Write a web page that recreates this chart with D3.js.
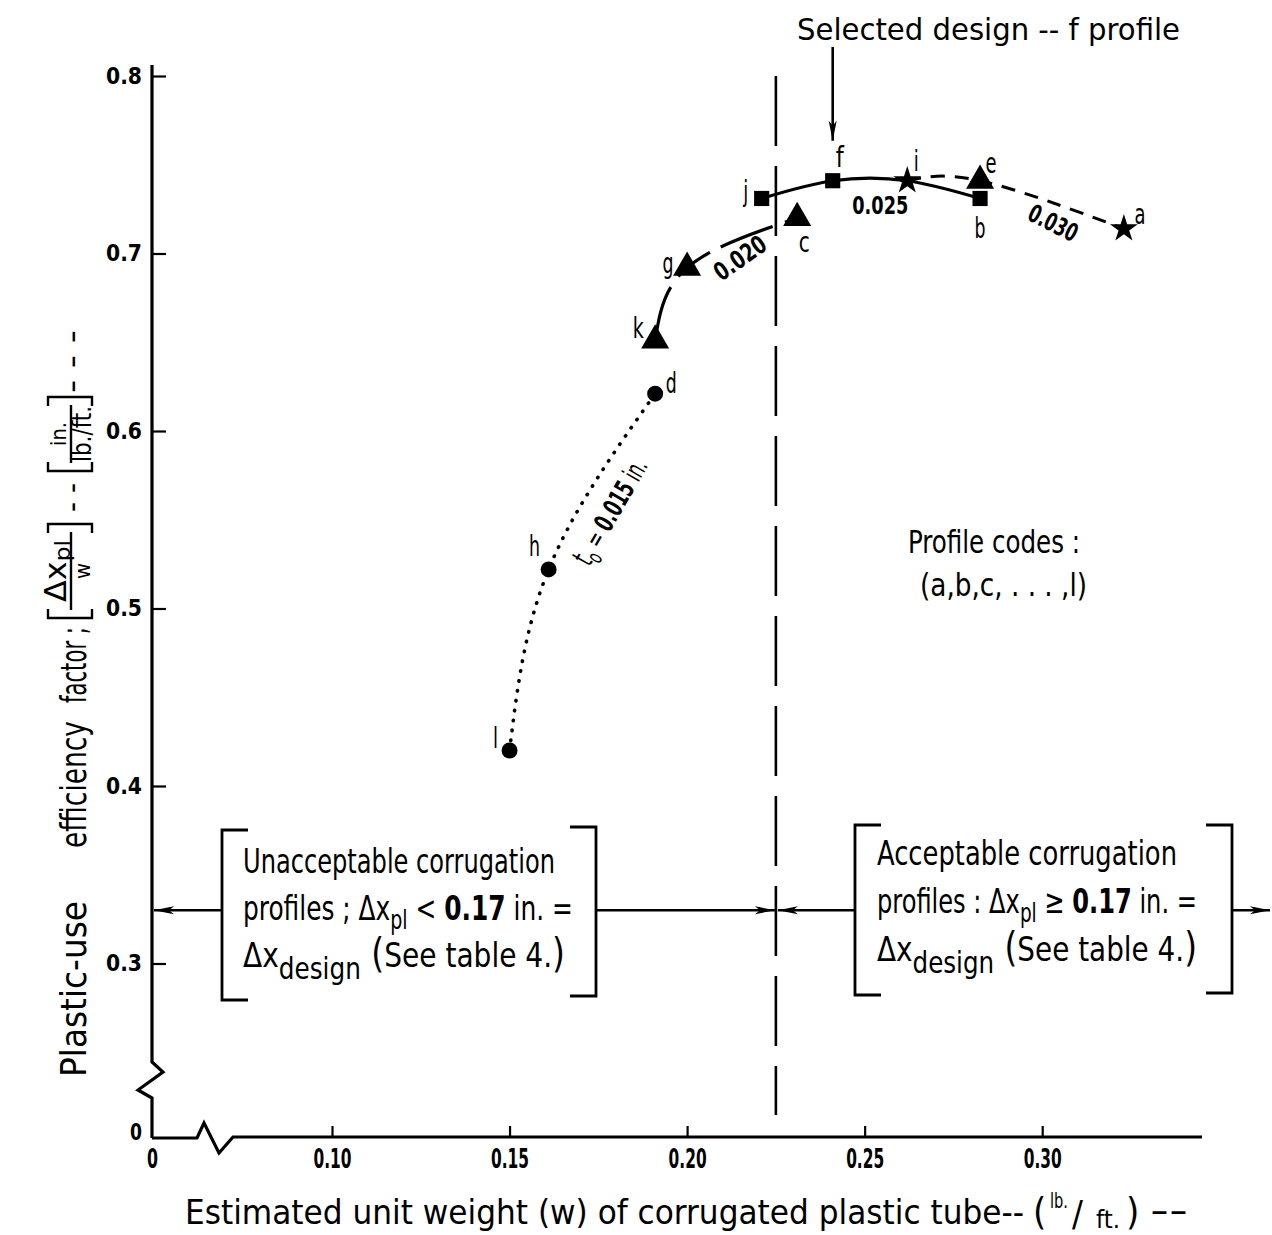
<!DOCTYPE html>
<html><head><meta charset="utf-8">
<script src="https://cdn.jsdelivr.net/npm/d3@7"></script>
<style>
body{margin:0;background:#fff;}
svg{display:block;background:#fff;}
text{font-family:"Liberation Sans Narrow","DejaVu Sans Condensed","DejaVu Sans",sans-serif;fill:#000;}
</style></head><body>
<svg id="chart" width="1272" height="1235"></svg>
<script>
// ---------------- data ----------------
const profileCodes = ["l","h","d","k","g","c","j","f","i","b","e","a"];
const unitWeight   = [0.150,0.161,0.191,0.191,0.200,0.231,0.221,0.241,0.262,0.2825,0.2825,0.323];
const efficiency   = [0.420,0.522,0.621,0.651,0.692,0.720,0.731,0.741,0.741,0.731,0.741,0.714];
const markerShape  = ["circle","circle","circle","triangle","triangle","triangle","square","square","star","square","triangle","star"];

const curveT015 = ["l","h","d"];
const curveT020 = ["k","g","c"];
const curveT025 = ["j","f","i","b"];
const curveT030 = ["i","e","a"];

const xTickValues = [0, 0.10, 0.15, 0.20, 0.25, 0.30];
const xTickLabels = ["0","0.10","0.15","0.20","0.25","0.30"];
const yTickValues = [0, 0.3, 0.4, 0.5, 0.6, 0.7, 0.8];
const yTickLabels = ["0","0.3","0.4","0.5","0.6","0.7","0.8"];

const boundaryWeight = 0.225;   // Δx_pl = 0.17 in. boundary
const arrowLevel = 0.33;

// ---------------- setup ----------------
const svg = d3.select("#chart");
const xScale = d3.scaleLinear().domain([0, 0.10, 0.345]).range([152, 332, 1202]);
const yScale = d3.scaleLinear().domain([0, 0.3, 0.8]).range([1138, 963.5, 76]);
const x0 = xScale(0), yb = yScale(0);

const pts = profileCodes.map((c,i)=>({code:c, w:unitWeight[i], v:efficiency[i], shape:markerShape[i]}));
const byCode = Object.fromEntries(pts.map(p=>[p.code,p]));

const defs = svg.append("defs");
defs.append("marker").attr("id","ah").attr("viewBox","0 0 20 10").attr("refX",20).attr("refY",5)
  .attr("markerWidth",20).attr("markerHeight",10).attr("markerUnits","userSpaceOnUse").attr("orient","auto")
  .append("path").attr("d","M0,1 L20,5 L0,9 L5,5 Z").attr("fill","#000");

function fit(sel,len){ return sel.attr("textLength",len).attr("lengthAdjust","spacingAndGlyphs"); }
// horizontally condense a (possibly multi-tspan) text placed at (x,y) to a given width
function squeeze(parent,x,y,len,size,extra){
  const t = parent.append("text").attr("x",0).attr("y",0).attr("font-size",size);
  t.__fit = ()=>{
    const n = t.node().getComputedTextLength();
    const s = n>0 ? len/n : 1;
    t.attr("transform",`translate(${x},${y}) ${extra||""} scale(${s},1)`);
  };
  return t;
}

// ---------------- axes ----------------
const xAxis = d3.axisBottom(xScale).tickValues(xTickValues)
  .tickFormat((d,i)=>xTickLabels[i]).tickSize(-12).tickPadding(12);
const gx = svg.append("g").attr("transform",`translate(0,${yb})`).call(xAxis);
gx.select(".domain").remove();
gx.selectAll(".tick line").attr("stroke","#000").attr("stroke-width",2.2)
  .filter(d=>d===0).remove();
gx.selectAll(".tick text").attr("font-size",26).attr("font-weight","bold").attr("fill","#000")
  .attr("font-family",'"DejaVu Sans Condensed","DejaVu Sans",sans-serif')
  .each(function(d){ fit(d3.select(this), d===0 ? 11 : 38); });

const yAxis = d3.axisLeft(yScale).tickValues(yTickValues)
  .tickFormat((d,i)=>yTickLabels[i]).tickSize(-14).tickPadding(10);
const gy = svg.append("g").attr("transform",`translate(${x0},0)`).call(yAxis);
gy.select(".domain").remove();
gy.selectAll(".tick line").attr("stroke","#000").attr("stroke-width",2.2)
  .filter(d=>d===0).remove();
gy.selectAll(".tick text").attr("font-size",23).attr("font-weight","bold").attr("fill","#000")
  .attr("font-family",'"DejaVu Sans","Liberation Sans",sans-serif')
  .each(function(d){ fit(d3.select(this), d===0 ? 12 : 36); });
gy.selectAll(".tick").filter(d=>d===0).select("text").attr("dy","0.05em");

// axis lines with break symbols
svg.append("path")
  .attr("d",`M${x0},${yb} V${yb-40} L${x0-14},${yb-48} L${x0+11},${yb-66} L${x0},${yb-76} V${yScale(0.8)-11}`)
  .attr("fill","none").attr("stroke","#000").attr("stroke-width",3.2).attr("stroke-linejoin","miter");
svg.append("path")
  .attr("d",`M${x0},${yb} H${x0+45} L${x0+52},${yb-15} L${x0+67},${yb+15} L${x0+81},${yb-1} H${xScale(0.345)}`)
  .attr("fill","none").attr("stroke","#000").attr("stroke-width",3.2);

// ---------------- boundary line ----------------
const xb = xScale(boundaryWeight);
svg.append("line").attr("x1",xb).attr("x2",xb).attr("y1",yScale(0.8)).attr("y2",yScale(0)-23)
  .attr("stroke","#000").attr("stroke-width",2.6).attr("stroke-dasharray","70,20");

// ---------------- curves ----------------
const line = d3.line().x(p=>xScale(p.w)).y(p=>yScale(p.v)).curve(d3.curveNatural);
const curves = [
  {codes:curveT015, dash:"0.5,9.5", width:3.6, cap:"round"},
  {codes:curveT020, dash:"56,13,40,12", width:3.2, cap:"butt"},
  {codes:curveT025, dash:null, width:3.2, cap:"butt"},
  {codes:curveT030, dash:"14,10", width:3, cap:"butt"}
];
curves.forEach(c=>{
  svg.append("path").attr("d",line(c.codes.map(k=>byCode[k])))
    .attr("fill","none").attr("stroke","#000").attr("stroke-width",c.width)
    .attr("stroke-linecap",c.cap).attr("stroke-dasharray",c.dash);
});

// ---------------- markers ----------------
const symType = {circle:d3.symbolCircle, square:d3.symbolSquare, triangle:d3.symbolTriangle, star:d3.symbolStar};
const symSize = {circle:200, square:230, triangle:340, star:240};
svg.append("g").selectAll("path").data(pts).join("path")
  .attr("transform",p=>`translate(${xScale(p.w)},${yScale(p.v)})`)
  .attr("d",p=>d3.symbol().type(symType[p.shape]).size(symSize[p.shape])())
  .attr("fill","#000");

// point letters (offsets in px)
const letterOffset = {l:[-14,-12],h:[-14,-23],d:[16,-11],k:[-17,-12],g:[-19,-5],c:[7,24],
  j:[-16,-7],f:[7,-24],i:[9,-20],b:[0,30],e:[11,-18],a:[16,-14]};
svg.append("g").selectAll("text").data(pts).join("text")
  .attr("x",p=>xScale(p.w)+letterOffset[p.code][0])
  .attr("y",p=>yScale(p.v)+letterOffset[p.code][1])
  .attr("dy","0.35em").attr("text-anchor","middle").attr("font-size",28)
  .attr("textLength",p=>(p.code==="l"||p.code==="i"||p.code==="j")?5:(p.code==="f"?8:11))
  .attr("lengthAdjust","spacingAndGlyphs")
  .text(p=>p.code);

// curve labels
function rotLabel(w,v,rot){
  return svg.append("text").attr("transform",`translate(${xScale(w)},${yScale(v)}) rotate(${rot})`)
    .attr("text-anchor","middle").attr("dy","0.35em").attr("font-size",25).attr("font-weight","bold");
}
fit(rotLabel(0.2544,0.7273,0).text("0.025"),56);
fit(rotLabel(0.3031,0.7172,27).text("0.030"),52);
fit(rotLabel(0.2149,0.6975,-35).text("0.020"),58);
const fitters = [];
const t15 = squeeze(svg,xScale(0.1785),yScale(0.5545),118,27,"rotate(-60)")
  .attr("text-anchor","middle").attr("dy","0.35em");
t15.append("tspan").attr("font-size",30).text("t");
t15.append("tspan").attr("font-size",22).attr("dy",7).text("o");
t15.append("tspan").attr("dy",-7).text(" = ");
t15.append("tspan").attr("font-weight","bold").text("0.015 ");
t15.append("tspan").text("in.");
fitters.push(t15);

// ---------------- top annotation ----------------
fit(svg.append("text").attr("x",797).attr("y",40).attr("font-size",30).text("Selected  design -- f  profile"),383);
const fx = xScale(byCode.f.w);
svg.append("line").attr("x1",fx).attr("x2",fx).attr("y1",47).attr("y2",yScale(byCode.f.v)-40)
  .attr("stroke","#000").attr("stroke-width",2.6).attr("marker-end","url(#ah)");

// ---------------- region boxes ----------------
const ya = yScale(arrowLevel);
function bracket(x,y1,y2,dir){
  svg.append("path").attr("d",`M${x+dir*26},${y1} H${x} V${y2} H${x+dir*26}`)
    .attr("fill","none").attr("stroke","#000").attr("stroke-width",2.8);
}
bracket(222,830,1000,1); bracket(596,827,996,-1);
bracket(855,825,995,1);  bracket(1232,825,993,-1);

function arrow(x1,x2){
  svg.append("line").attr("x1",x1).attr("x2",x2).attr("y1",ya).attr("y2",ya)
    .attr("stroke","#000").attr("stroke-width",2.6).attr("marker-end","url(#ah)");
}
arrow(222,x0+2); arrow(596,xb-1); arrow(855,xb+2); arrow(1232,1270);

function boxLines(x,base,lineGap,first,rel,len1,len2,len3){
  fit(svg.append("text").attr("x",x).attr("y",base).attr("font-size",34).text(first),len1);
  const t2 = squeeze(svg,x,base+lineGap,len2,34);
  t2.append("tspan").text("profiles "+(rel==="<"?";":":")+" \u0394x");
  t2.append("tspan").attr("font-size",26).attr("dy",9).text("pl");
  t2.append("tspan").attr("dy",-9).text(rel==="<" ? "  <  " : "  \u2265  ");
  t2.append("tspan").attr("font-weight","bold").text("0.17");
  t2.append("tspan").text("  in. =");
  const t3 = squeeze(svg,x,base+2*lineGap,len3,34);
  t3.append("tspan").text("\u0394x");
  t3.append("tspan").attr("font-size",30).attr("dy",12).text("design");
  t3.append("tspan").attr("dy",-12).attr("font-size",40).text(" (");
  t3.append("tspan").text("See  table  4.");
  t3.append("tspan").attr("font-size",40).text(")");
  fitters.push(t2,t3);
}
boxLines(243,873,47,"Unacceptable  corrugation","<",312,330,322);
boxLines(877,865,48,"Acceptable  corrugation","\u2265",300,320,320);

// ---------------- x-axis title ----------------
fit(svg.append("text").attr("x",185).attr("y",1224).attr("font-size",34)
  .text("Estimated  unit  weight  (w)  of  corrugated  plastic  tube--"),839);
svg.append("text").attr("x",1033).attr("y",1224).attr("font-size",38).text("(");
fit(svg.append("text").attr("x",1050).attr("y",1208).attr("font-size",22).text("lb."),18);
svg.append("text").attr("x",1072).attr("y",1226).attr("font-size",36).text("/");
fit(svg.append("text").attr("x",1096).attr("y",1228).attr("font-size",24).text("ft."),24);
svg.append("text").attr("x",1126).attr("y",1224).attr("font-size",38).text(")");
fit(svg.append("text").attr("x",1150).attr("y",1222).attr("font-size",34).text("--"),38);

// ---------------- y-axis title (rotated) ----------------
const gyl = svg.append("g").attr("transform","rotate(-90)");
function rtext(pageYStart,pageYEnd,base,size,str){
  return fit(gyl.append("text").attr("x",-pageYStart).attr("y",base).attr("font-size",size).text(str),pageYStart-pageYEnd);
}
rtext(1077,901,86,36,"Plastic-use");
rtext(848,721,86,36,"efficiency");
rtext(703,627,86,36,"factor ;");
rtext(512,483,82,30,"- -");
rtext(393,330,82,30,"- - -");
function rbracket(p1,p2){
  gyl.append("path").attr("d",`M${-p1+9},48 H${-p1} V92 H${-p1+9}`).attr("fill","none").attr("stroke","#000").attr("stroke-width",2.4);
  gyl.append("path").attr("d",`M${-p2-9},48 H${-p2} V92 H${-p2-9}`).attr("fill","none").attr("stroke","#000").attr("stroke-width",2.4);
  gyl.append("line").attr("x1",-p1+8).attr("x2",-p2-8).attr("y1",71).attr("y2",71).attr("stroke","#000").attr("stroke-width",2.4);
}
rbracket(618,524);
rbracket(471,397);
const num1 = squeeze(gyl,-602,66,62,30);
num1.append("tspan").text("\u0394x");
num1.append("tspan").attr("font-size",22).attr("dy",4).text("pl");
fitters.push(num1);
gyl.append("text").attr("x",-571).attr("y",90).attr("text-anchor","middle").attr("font-size",22).text("w");
fit(gyl.append("text").attr("x",-434).attr("y",66).attr("text-anchor","middle").attr("font-size",22).text("in."),24);
fit(gyl.append("text").attr("x",-434).attr("y",91).attr("text-anchor","middle").attr("font-size",26).text("lb./ft."),56);

// profile codes note
fit(svg.append("text").attr("x",908).attr("y",553).attr("font-size",32).text("Profile  codes :"),172);
fit(svg.append("text").attr("x",920).attr("y",596).attr("font-size",32).text("(a,b,c, . . . ,l)"),167);

fitters.forEach(t=>t.__fit());
</script>
</body></html>
